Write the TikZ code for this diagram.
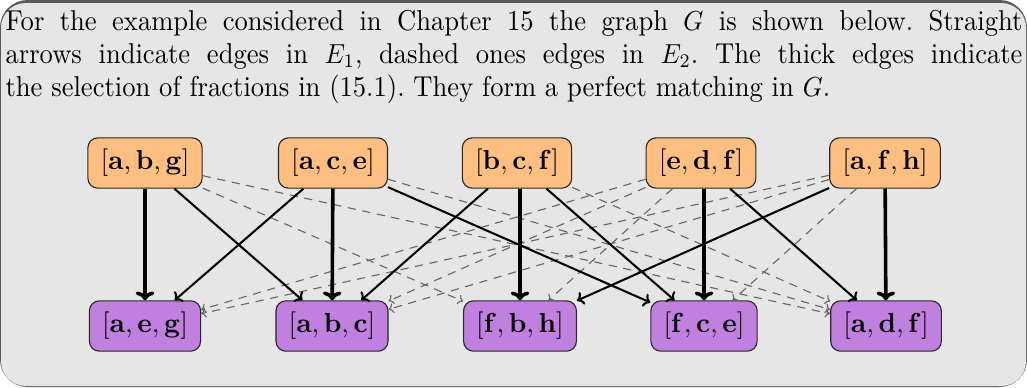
\documentclass[tikz,border=0pt]{standalone}
\usetikzlibrary{arrows.meta}
\definecolor{framedark}{RGB}{90,90,90}
\definecolor{bggray}{RGB}{230,230,230}
\definecolor{toporange}{RGB}{255,191,128}
\definecolor{botpurple}{RGB}{191,128,223}
\definecolor{dashgray}{RGB}{100,100,100}
\begin{document}
\begin{tikzpicture}[x=0.36364pt,y=-0.36364pt,
  vbox/.style={draw=black!85,line width=0.4pt,rounded corners=3.6pt,minimum height=18.3pt,inner xsep=4.6pt,inner ysep=0pt},
  topbox/.style={vbox,fill=toporange},
  botbox/.style={vbox,fill=botpurple},
  matchedge/.style={line width=1.3pt,-{To[length=3.2pt,width=6.8pt]}},
  solidedge/.style={line width=0.75pt,-{To[length=2.4pt,width=5pt]}},
  dashedge/.style={line width=0.4pt,draw=dashgray,dash pattern=on 3pt off 2.4pt,-{To[length=1.8pt,width=3.6pt]}}]
\useasboundingbox (0,0) rectangle (1027,387);
\fill[framedark,rounded corners=10pt] (0,0) rectangle (1027,387);
\fill[bggray,rounded corners=9pt] (1,3) rectangle (1026,386);
\node[anchor=north west,inner sep=0pt,font=\fontsize{10.45}{12}\selectfont] (txt) at (5,10)
{\scalebox{0.925}[1]{\parbox[t]{399.8pt}{\frenchspacing For the example considered in Chapter 15 the graph $G$ is shown below. Straight\linebreak arrows indicate edges in $E_1$, dashed ones edges in $E_2$. The thick edges indicate\linebreak the selection of fractions in (15.1). They form a perfect matching in $G$.}}};
\node[topbox] (t1) at (145,163) {$[\mathbf{a},\mathbf{b},\mathbf{g}]$};
\node[topbox] (t2) at (333,163) {$[\mathbf{a},\mathbf{c},\mathbf{e}]$};
\node[topbox] (t3) at (517,163) {$[\mathbf{b},\mathbf{c},\mathbf{f}]$};
\node[topbox] (t4) at (701,163) {$[\mathbf{e},\mathbf{d},\mathbf{f}]$};
\node[topbox] (t5) at (885,163) {$[\mathbf{a},\mathbf{f},\mathbf{h}]$};
\node[botbox] (b1) at (145,326) {$[\mathbf{a},\mathbf{e},\mathbf{g}]$};
\node[botbox] (b2) at (332,326) {$[\mathbf{a},\mathbf{b},\mathbf{c}]$};
\node[botbox] (b3) at (520,326) {$[\mathbf{f},\mathbf{b},\mathbf{h}]$};
\node[botbox] (b4) at (704,326) {$[\mathbf{f},\mathbf{c},\mathbf{e}]$};
\node[botbox] (b5) at (886,326) {$[\mathbf{a},\mathbf{d},\mathbf{f}]$};
% dashed edges (E2)
\draw[dashedge] (t1) -- (b3);
\draw[dashedge] (t1) -- (b5);
\draw[dashedge] (t2) -- (b5);
\draw[dashedge] (t3) -- (b5);
\draw[dashedge] (t4) -- (b1);
\draw[dashedge] (t4) -- (b2);
\draw[dashedge] (t4) -- (b3);
\draw[dashedge] (t5) -- (b1);
\draw[dashedge] (t5) -- (b2);
\draw[dashedge] (t5) -- (b4);
% solid edges (E1)
\draw[solidedge] (t1) -- (b2);
\draw[solidedge] (t2) -- (b1);
\draw[solidedge] (t2) -- (b4);
\draw[solidedge] (t3) -- (b2);
\draw[solidedge] (t3) -- (b4);
\draw[solidedge] (t4) -- (b5);
\draw[solidedge] (t5) -- (b3);
% matching
\draw[matchedge] (t1) -- (b1);
\draw[matchedge] (t2) -- (b2);
\draw[matchedge] (t3.south -| b3) -- (b3);
\draw[matchedge] (t4.south -| b4) -- (b4);
\draw[matchedge] (t5) -- (b5);
\end{tikzpicture}
\end{document}
